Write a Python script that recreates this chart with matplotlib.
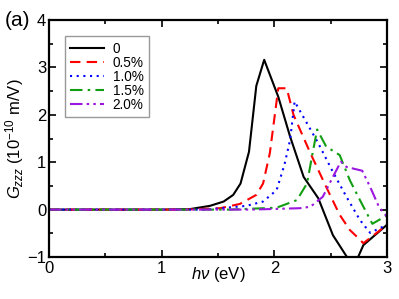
import matplotlib
matplotlib.use("Agg")
import matplotlib.pyplot as plt
from matplotlib.ticker import MultipleLocator

plt.rcParams["font.family"] = ["Liberation Sans", "DejaVu Sans"]
plt.rcParams["mathtext.fontset"] = "custom"
plt.rcParams["mathtext.rm"] = "Liberation Sans"
plt.rcParams["mathtext.it"] = "Liberation Sans:italic"

# strain 0
e_0 = [0.0, 1.0, 1.25, 1.43, 1.55, 1.635, 1.70, 1.775, 1.84, 1.91, 2.035, 2.14, 2.26, 2.39, 2.52, 2.65, 2.70, 2.74, 2.79, 3.0]
g_0 = [0.0, 0.0, 0.01, 0.08, 0.17, 0.31, 0.55, 1.22, 2.61, 3.16, 2.38, 1.54, 0.69, 0.24, -0.54, -1.02, -1.1, -1.02, -0.75, -0.32]

# strain 0.5%
e_05 = [0.0, 1.2, 1.52, 1.695, 1.84, 1.90, 1.96, 2.035, 2.11, 2.17, 2.32, 2.46, 2.58, 2.67, 2.745, 2.79, 3.0]
g_05 = [0.0, 0.0, 0.03, 0.12, 0.31, 0.55, 1.19, 2.56, 2.56, 2.0, 1.19, 0.48, -0.11, -0.43, -0.6, -0.71, -0.32]

# strain 1.0%
e_10 = [0.0, 1.4, 1.754, 1.90, 2.02, 2.09, 2.14, 2.18, 2.39, 2.51, 2.64, 2.76, 2.85, 3.0]
g_10 = [0.0, 0.0, 0.08, 0.17, 0.41, 0.95, 1.47, 2.28, 1.40, 0.84, 0.27, -0.22, -0.49, -0.32]

# strain 1.5%
e_15 = [0.0, 1.6, 2.02, 2.20, 2.29, 2.345, 2.38, 2.46, 2.58, 2.67, 2.76, 2.87, 3.0]
g_15 = [0.0, 0.0, 0.04, 0.2, 0.55, 1.26, 1.69, 1.33, 1.15, 0.62, 0.2, -0.3, -0.12]

# strain 2.0%
e_20 = [0.0, 1.8, 2.23, 2.32, 2.43, 2.52, 2.59, 2.64, 2.78, 2.85, 2.93, 3.0]
g_20 = [0.0, 0.0, 0.03, 0.06, 0.27, 0.69, 1.01, 0.9, 0.82, 0.48, 0.05, -0.15]

fig = plt.figure(figsize=(3.99, 2.99), dpi=100)
ax = fig.add_axes([49 / 399, 1 - 257 / 299, 338 / 399, 237 / 299])

ax.plot(e_0, g_0, color="black", lw=1.5, ls="-", label="0")
ax.plot(e_05, g_05, color="red", lw=1.5, ls=(0, (5, 3)), label="0.5%")
ax.plot(e_10, g_10, color="blue", lw=1.5, ls=(0, (1, 2.2)), label="1.0%")
ax.plot(e_15, g_15, color="#129e12", lw=1.5, ls=(0, (6, 2.5, 1.2, 2.5)), label="1.5%")
ax.plot(e_20, g_20, color="#9b17e0", lw=1.5, ls=(0, (6, 2, 1.2, 2, 1.2, 2)), label="2.0%")

ax.set_xlim(0, 3)
ax.set_ylim(-1, 4)
ax.xaxis.set_major_locator(MultipleLocator(1))
ax.xaxis.set_minor_locator(MultipleLocator(0.5))
ax.yaxis.set_major_locator(MultipleLocator(1))
ax.yaxis.set_minor_locator(MultipleLocator(0.5))
ax.tick_params(which="both", direction="in", top=True, right=True, labelsize=12, width=1.2)
ax.tick_params(which="major", length=5)
ax.tick_params(which="minor", length=3)
ax.tick_params(axis="x", pad=3)
ax.tick_params(axis="y", pad=2)
for s in ax.spines.values():
    s.set_linewidth(1.6)

ax.set_xlabel(r"$h\nu$ (eV)", fontsize=12, labelpad=-8)
ax.set_ylabel(r"$G_{zzz}$ (10$^{-10}$ m/V)", fontsize=12, labelpad=1)

leg = ax.legend(loc="upper left", bbox_to_anchor=(0.047, 0.932), fontsize=9.8,
                handlelength=2.5, handletextpad=0.6, labelspacing=0.0,
                borderpad=0.4, borderaxespad=0, frameon=True, fancybox=False)
leg.get_frame().set_edgecolor("gray")
leg.get_frame().set_linewidth(1.0)

fig.text(0.012, 0.912, "(a)", fontsize=15)

fig.savefig("out.png", dpi=100)
